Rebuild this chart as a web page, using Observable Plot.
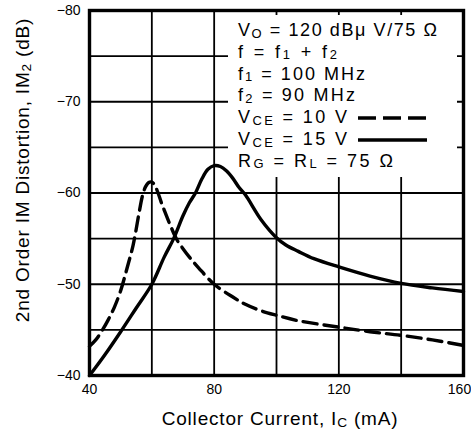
<!DOCTYPE html>
<html>
<head>
<meta charset="utf-8">
<script src="https://cdn.jsdelivr.net/npm/d3@7"></script>
<script src="https://cdn.jsdelivr.net/npm/@observablehq/plot@0.6"></script>
<style>
  html, body { margin: 0; padding: 0; background: #fff; }
  svg { display: block; }
</style>
</head>
<body>
<div id="chart"></div>
<script>
// ---- data ----
const xTicks = [40, 80, 120, 160];
const xGrid = [60, 80, 100, 120, 140];
const yTicks = [-40, -50, -60, -70, -80];
const yGrid = [-45, -50, -55, -60, -65, -70, -75];

// VCE = 10 V (dashed)
const ic10 = [40, 42, 44, 46, 48, 50, 52, 54, 56, 57, 58, 59, 60, 61, 62, 63, 64, 66, 68, 70, 72, 75, 80, 86, 90, 95, 100, 107, 120, 130, 140, 150, 160];
const im10 = [-43.2, -43.9, -44.9, -46.1, -47.5, -49.3, -51.7, -54.3, -58.0, -59.7, -60.7, -61.15, -61.2, -60.8, -60.0, -59.0, -58.1, -56.4, -54.9, -53.9, -53.0, -51.8, -50.0, -48.6, -47.8, -47.1, -46.6, -46.0, -45.3, -44.8, -44.4, -43.9, -43.3];

// VCE = 15 V (solid)
const ic15 = [40, 42, 45, 50, 55, 60, 64, 67, 70, 72, 74, 76, 78, 80, 82, 84, 86, 88, 90, 95, 100, 103, 107, 112, 120, 130, 140, 150, 160];
const im15 = [-40, -40.9, -42.3, -44.8, -47.4, -50, -53, -55, -57.5, -58.9, -60.0, -61.5, -62.6, -63.0, -62.9, -62.4, -61.6, -60.6, -59.8, -57.1, -55.1, -54.3, -53.6, -52.8, -51.9, -50.9, -50.1, -49.6, -49.2];

const legendLines = [
  [["V"], ["O", 1], [" = 120 dBμ V/75 Ω"]],
  [["f = f"], ["1", 1], [" + f"], ["2", 1]],
  [["f"], ["1", 1], [" = 100 MHz"]],
  [["f"], ["2", 1], [" = 90 MHz"]],
  [["V"], ["CE", 1], [" = 10 V"]],
  [["V"], ["CE", 1], [" = 15 V"]],
  [["R"], ["G", 1], [" = R"], ["L", 1], [" = 75 Ω"]]
];
const xLabel = [["Collector Current, I"], ["C", 1], [" (mA)"]];
const yLabel = [["2nd Order IM Distortion, IM"], ["2", 1], [" (dB)"]];

const d10 = ic10.map((x, i) => ({x, y: im10[i]}));
const d15 = ic15.map((x, i) => ({x, y: im15[i]}));

const FONT = "'Liberation Sans', Arial, Helvetica, sans-serif";

const plot = Plot.plot({
  width: 471,
  height: 433,
  marginTop: 10,
  marginBottom: 58,
  marginLeft: 89,
  marginRight: 8,
  style: {fontFamily: FONT, fontSize: "14px", background: "#fff", color: "#000"},
  x: {domain: [40, 160]},
  y: {domain: [-40, -80]},
  marks: [
    Plot.ruleX(xGrid, {stroke: "#000", strokeWidth: 1.8}),
    Plot.ruleY(yGrid, {stroke: "#000", strokeWidth: 1.8}),
    Plot.axisX({ticks: xTicks, tickSize: 0, tickPadding: 9, label: null, fontSize: 14, tickFormat: d => String(d)}),
    Plot.axisY({ticks: yTicks, tickSize: 0, tickPadding: 9, label: null, fontSize: 14, tickFormat: d => "\u2212" + Math.abs(d)}),
    Plot.line(d10, {x: "x", y: "y", stroke: "#000", strokeWidth: 3.4, strokeDasharray: "14,7", curve: "catmull-rom"}),
    Plot.line(d15, {x: "x", y: "y", stroke: "#000", strokeWidth: 3.4, curve: "catmull-rom"}),
    Plot.frame({stroke: "#000", strokeWidth: 3.4})
  ]
});

document.getElementById("chart").appendChild(plot);
const svg = d3.select(plot);

function richText(g, segs, size) {
  const t = g.append("text").attr("font-family", FONT).attr("font-size", size).attr("fill", "#000");
  let shifted = false;
  segs.forEach(([s, sub]) => {
    const ts = t.append("tspan").text(s);
    if (sub) { ts.attr("font-size", size * 0.72).attr("dy", shifted ? 0 : 1.5); shifted = true; }
    else if (shifted) { ts.attr("dy", -1.5); shifted = false; }
  });
  return t;
}

// white legend box (covers the grid behind the annotation), then bring curves and frame back on top
svg.append("rect")
  .attr("x", 228).attr("y", 15).attr("width", 229).attr("height", 162)
  .attr("fill", "#fff");
svg.selectAll("[aria-label='line'], [aria-label='frame']").raise();

// nudge the last x tick label inward so it is not clipped
const xt = svg.selectAll("[aria-label='x-axis tick label'] text");
xt.filter((d, i, n) => i === n.length - 1).attr("dx", -4);

// annotation block (line widths set to match the typeset original)
const legendWidths = [199, 99, 127, 117, 109, 109, 155];
const lg = svg.append("g").attr("text-anchor", "start");
legendLines.forEach((segs, i) => {
  richText(lg, segs, 18)
    .attr("x", 238).attr("y", 36 + i * 21.8).attr("text-anchor", "start")
    .attr("textLength", legendWidths[i]).attr("lengthAdjust", "spacing");
});
// legend line samples
svg.append("line").attr("x1", 358).attr("x2", 427).attr("y1", 118).attr("y2", 118)
  .attr("stroke", "#000").attr("stroke-width", 3.6).attr("stroke-dasharray", "18,7");
svg.append("line").attr("x1", 358).attr("x2", 427).attr("y1", 140).attr("y2", 140)
  .attr("stroke", "#000").attr("stroke-width", 3.6);

// axis titles
richText(svg.append("g").attr("letter-spacing", "0.8px"), xLabel, 19)
  .attr("x", 280).attr("y", 425).attr("text-anchor", "middle");
richText(svg.append("g").attr("letter-spacing", "0.8px"), yLabel, 19)
  .attr("text-anchor", "middle")
  .attr("transform", "translate(29,170) rotate(-90)");
</script>
</body>
</html>
